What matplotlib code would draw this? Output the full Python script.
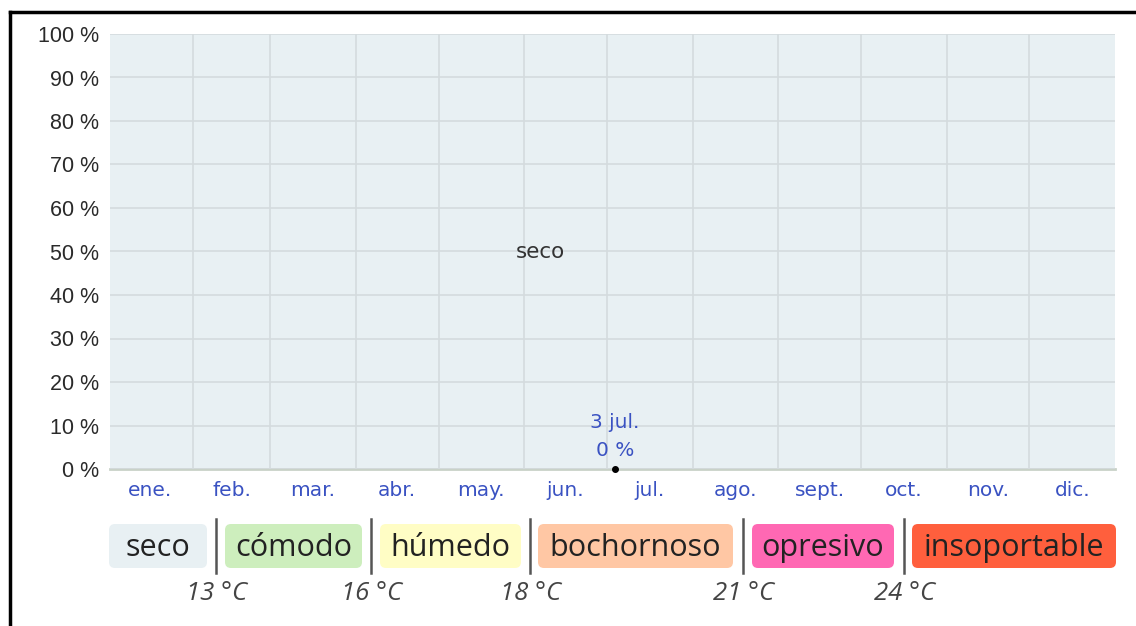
import matplotlib
matplotlib.use("Agg")
import matplotlib.pyplot as plt
from matplotlib.patches import FancyBboxPatch
import numpy as np

# datos
meses = ['ene.', 'feb.', 'mar.', 'abr.', 'may.', 'jun.',
         'jul.', 'ago.', 'sept.', 'oct.', 'nov.', 'dic.']
dias_mes = [31, 28, 31, 30, 31, 30, 31, 31, 30, 31, 30, 31]

niveles = ['seco', 'cómodo', 'húmedo', 'bochornoso', 'opresivo', 'insoportable']
colores = ['#e8f0f3', '#cdeebd', '#fffdc5', '#ffc7a4', '#ff68b3', '#ff5f3d']
umbrales = ['13 °C', '16 °C', '18 °C', '21 °C', '24 °C']

# porcentaje del tiempo en cada nivel (días del año)
dias = [1, 32, 60, 91, 121, 152, 184, 213, 244, 274, 305, 335, 365]
seco = [100, 100, 100, 100, 100, 100, 100, 100, 100, 100, 100, 100, 100]
comodo = [0, 0, 0, 0, 0, 0, 0, 0, 0, 0, 0, 0, 0]
humedo = [0, 0, 0, 0, 0, 0, 0, 0, 0, 0, 0, 0, 0]
bochornoso = [0, 0, 0, 0, 0, 0, 0, 0, 0, 0, 0, 0, 0]
opresivo = [0, 0, 0, 0, 0, 0, 0, 0, 0, 0, 0, 0, 0]
insoportable = [0, 0, 0, 0, 0, 0, 0, 0, 0, 0, 0, 0, 0]

# punto destacado
punto_dia = 184
punto_valor = 0
punto_fecha = '3 jul.'

W, H = 1136, 626
fig = plt.figure(figsize=(W / 100, H / 100), dpi=100)

ax = fig.add_axes([110 / W, 1 - 469 / H, 1005 / W, 435 / H])
ax.stackplot(dias, insoportable, opresivo, bochornoso, humedo, comodo, seco,
             colors=colores[::-1], linewidth=0)
ax.set_xlim(1, 365)
ax.set_ylim(0, 100)

limites = np.cumsum([0] + dias_mes)
centros = (limites[:-1] + limites[1:]) / 2
ax.set_xticks(limites[1:-1])
ax.set_xticklabels([])
ax.set_xticks(centros, minor=True)
ax.set_xticklabels(meses, minor=True, color='#3a52c2', fontsize=14.5,
                   fontfamily='DejaVu Sans')
ax.tick_params(axis='x', which='both', length=0, pad=9)
ax.set_yticks(range(0, 101, 10))
ax.set_yticklabels([f'{v} %' for v in range(0, 101, 10)],
                   fontsize=15.5, fontfamily='Liberation Sans', color='#2a2a2a')
ax.tick_params(axis='y', length=0, pad=8)
ax.grid(True, which='major', color='#d4dbde', linewidth=1.2)
ax.set_axisbelow(False)
for s in ['top', 'right', 'left']:
    ax.spines[s].set_visible(False)
ax.spines['bottom'].set_color('#c9d2c8')
ax.spines['bottom'].set_linewidth(2)

ax.text(157, 50, 'seco', ha='center', va='center', fontsize=15.5,
        color='#333333', fontfamily='DejaVu Sans')

ax.plot([punto_dia], [punto_valor], 'o', color='black', markersize=4,
        clip_on=False, zorder=5)
ax.annotate(punto_fecha, (punto_dia, punto_valor), xytext=(-1, 47),
            textcoords='offset pixels', ha='center', va='center',
            color='#3a52c2', fontsize=14.5, fontfamily='DejaVu Sans')
ax.annotate(f'{punto_valor} %', (punto_dia, punto_valor), xytext=(0, 18),
            textcoords='offset pixels', ha='center', va='center',
            color='#3a52c2', fontsize=14.5, fontfamily='DejaVu Sans')

# leyenda y marco en píxeles
lay = fig.add_axes([0, 0, 1, 1])
lay.set_xlim(0, W)
lay.set_ylim(H, 0)
lay.axis('off')

lay.plot([10, 10], [12, H], color='black', linewidth=2.5)
lay.plot([10, W], [12, 12], color='black', linewidth=2.5)

cajas = [(109, 207), (225, 362), (380, 521), (538, 733), (752, 894), (912, 1116)]
separadores = [216, 371, 530, 743, 904]
for (x0, x1), nombre, col in zip(cajas, niveles, colores):
    lay.add_patch(FancyBboxPatch((x0 + 6, 530), x1 - x0 - 12, 32,
                                 boxstyle='round,pad=6', facecolor=col,
                                 edgecolor='none'))
    lay.text((x0 + x1) / 2, 548, nombre, ha='center', va='center',
             fontsize=22, fontfamily='Open Sans', color='#222222')
for xs, t in zip(separadores, umbrales):
    lay.plot([xs, xs], [519, 573], color='#555555', linewidth=1.8)
    lay.text(xs + 1, 594, t, ha='center', va='center', fontsize=18.5,
             fontfamily='Open Sans', style='italic', color='#444444')

fig.savefig('out.png', dpi=100)
